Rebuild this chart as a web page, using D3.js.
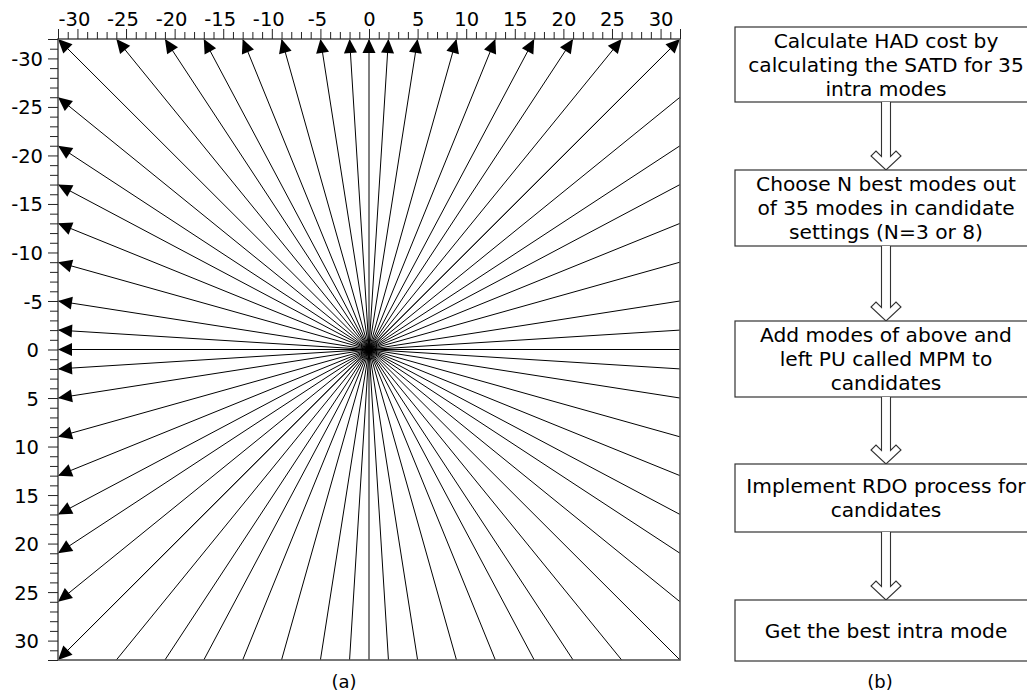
<!DOCTYPE html>
<html><head><meta charset="utf-8">
<script src="https://cdn.jsdelivr.net/npm/d3@7"></script>
<style>
html,body{margin:0;padding:0;background:#fff;}
svg{display:block;font-family:"DejaVu Sans",sans-serif;}
</style></head>
<body>
<svg id="c" width="1027" height="692"></svg>
<script>
// ---- data ----
const displacements = [-32,-26,-21,-17,-13,-9,-5,-2,0,2,5,9,13,17,21,26,32];
const axisDomain = [-32, 32];
const tickLabels = [-30,-25,-20,-15,-10,-5,0,5,10,15,20,25,30];
const panelLabels = ["(a)", "(b)"];
const flowSteps = [
  ["Calculate HAD cost by", "calculating the SATD for 35", "intra modes"],
  ["Choose N best modes out", "of 35 modes in candidate", "settings (N=3 or 8)"],
  ["Add modes of above and", "left PU called MPM to", "candidates"],
  ["Implement RDO process for", "candidates"],
  ["Get the best intra mode"]
];

// ---- layout ----
const FONT = "DejaVu Sans";
const svg = d3.select("#c");
const x = d3.scaleLinear().domain(axisDomain).range([58, 680]);
const y = d3.scaleLinear().domain(axisDomain).range([39, 660]);
const FS = 19.5;

// directions: arrows on top edge and on left edge
const arrows = [];
displacements.forEach(d => arrows.push({tip:[d, -32], end:[-d, 32]}));
displacements.filter(d => d !== -32).forEach(d => arrows.push({tip:[-32, d], end:[32, -d]}));

const g = svg.append("g");

// lines
g.selectAll("line.ray").data(arrows).join("line")
  .attr("class","ray")
  .attr("x1", d => x(d.tip[0])).attr("y1", d => y(d.tip[1]))
  .attr("x2", d => x(d.end[0])).attr("y2", d => y(d.end[1]))
  .attr("stroke", "#000").attr("stroke-width", 1);

// arrow heads
const HL = 14, HW = 6.5;
g.selectAll("path.head").data(arrows).join("path")
  .attr("class","head")
  .attr("d", d => {
    const tx = x(d.tip[0]), ty = y(d.tip[1]);
    const ex = x(d.end[0]), ey = y(d.end[1]);
    const len = Math.hypot(ex - tx, ey - ty);
    const ux = (ex - tx) / len, uy = (ey - ty) / len;
    const bx = tx + ux * HL, by = ty + uy * HL;
    const px = -uy, py = ux;
    return `M${tx},${ty}L${bx + px*HW},${by + py*HW}L${bx - px*HW},${by - py*HW}Z`;
  })
  .attr("fill", "#000");

// frame
g.append("rect")
  .attr("x", x(-32)).attr("y", y(-32))
  .attr("width", x(32) - x(-32)).attr("height", y(32) - y(-32))
  .attr("fill", "none").attr("stroke", "#555").attr("stroke-width", 1.6);

// top axis
const allTicks = d3.range(axisDomain[0], axisDomain[1] + 1);
const isMajor = v => v % 5 === 0 || Math.abs(v) === 32;
const topAxis = d3.axisTop(x).tickValues(allTicks).tickSizeOuter(0)
  .tickFormat(v => tickLabels.includes(v) ? String(v) : "");
const ta = g.append("g").attr("transform", `translate(0,${y(-32)})`).call(topAxis);
ta.attr("font-family", FONT).attr("font-size", FS);
ta.select(".domain").remove();
ta.selectAll(".tick line").attr("y2", v => isMajor(v) ? -10 : -7).attr("stroke", "#222");
ta.selectAll(".tick text").attr("fill", "#000").attr("y", -13).attr("dy", 0);

// left axis
const leftAxis = d3.axisLeft(y).tickValues(allTicks).tickSizeOuter(0)
  .tickFormat(v => tickLabels.includes(v) ? String(v) : "");
const la = g.append("g").attr("transform", `translate(${x(-32)},0)`).call(leftAxis);
la.attr("font-family", FONT).attr("font-size", FS);
la.select(".domain").remove();
la.selectAll(".tick line").attr("x2", v => isMajor(v) ? -10 : -8).attr("stroke", "#222");
la.selectAll(".tick text").attr("fill", "#000")
  .attr("x", v => v < 0 ? -15 : -19).attr("dy", "0.36em");

// shift negative top labels so digits sit on the tick
const tmp = svg.append("text").attr("font-size", FS).attr("font-family", FONT).text("-");
const minusW = tmp.node().getComputedTextLength();
tmp.remove();
ta.selectAll(".tick text").attr("x", v => v < 0 ? -minusW / 2 : 0);

// panel labels
svg.append("text").attr("x", 344).attr("y", 688).attr("text-anchor","middle")
  .attr("font-size", 18).text(panelLabels[0]);
svg.append("text").attr("x", 880).attr("y", 688).attr("text-anchor","middle")
  .attr("font-size", 18).text(panelLabels[1]);

// flowchart
const boxes = [[27,102],[170,246],[321,397],[464,532],[600,661]];
const bx0 = 735, bx1 = 1040, cx = 886, LH = 24;
const fg = svg.append("g");
flowSteps.forEach((lines, i) => {
  const [t, b] = boxes[i];
  fg.append("rect").attr("x", bx0).attr("y", t).attr("width", bx1 - bx0).attr("height", b - t)
    .attr("fill", "#fff").attr("stroke", "#333").attr("stroke-width", 1.2);
  const mid = (t + b) / 2;
  lines.forEach((ln, j) => {
    fg.append("text").attr("x", cx).attr("y", mid + (j - (lines.length - 1) / 2) * LH)
      .attr("dy", "0.36em").attr("text-anchor", "middle").attr("font-size", 20.2).text(ln);
  });
  if (i < flowSteps.length - 1) {
    const top = b, tip = boxes[i + 1][0];
    const sL = cx - 4.5, sR = cx + 4.5;
    const pts = [[sL, top],[sL, tip - 13.5],[cx - 10, tip - 19],[cx - 15, tip - 14],[cx, tip],
                 [cx + 15, tip - 14],[cx + 10, tip - 19],[sR, tip - 13.5],[sR, top]];
    fg.append("path").attr("d", "M" + pts.map(p => p.join(",")).join("L"))
      .attr("fill", "#fff").attr("stroke", "#333").attr("stroke-width", 1.1);
  }
});
</script>
</body></html>
